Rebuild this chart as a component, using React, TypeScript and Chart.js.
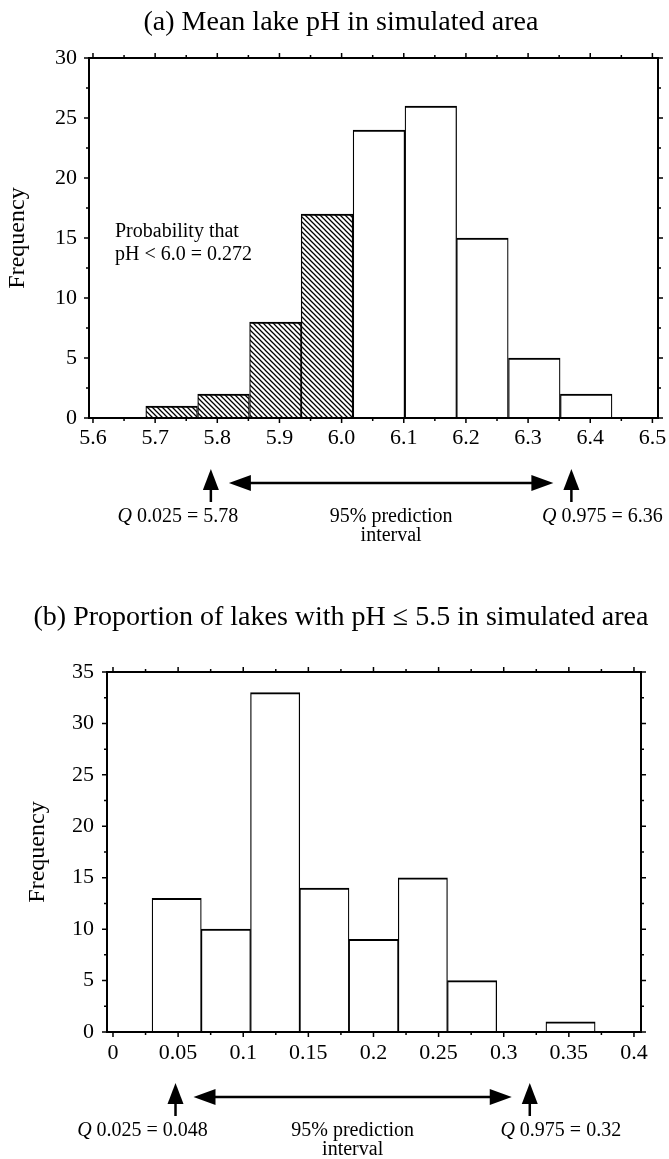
import React, { useEffect, useRef } from 'react';
import { Chart, registerables } from 'chart.js';

Chart.register(...registerables);

const FONT = '"Liberation Serif", "Times New Roman", Times, serif';

// ---------- Chart (a): mean lake pH ----------
const phTitle = '(a) Mean lake pH in simulated area';
const phBinEdges = [5.685, 5.768, 5.852, 5.935, 6.018, 6.102, 6.185, 6.268, 6.352, 6.435];
const phFrequency = [1, 2, 8, 17, 24, 26, 15, 5, 2];
const phHatchBelow = 6.0;
const phXTicks = [5.6, 5.7, 5.8, 5.9, 6.0, 6.1, 6.2, 6.3, 6.4, 6.5];
const phXTickLabels = ['5.6', '5.7', '5.8', '5.9', '6.0', '6.1', '6.2', '6.3', '6.4', '6.5'];
const phYTicks = [0, 5, 10, 15, 20, 25, 30];
const phQuantiles = [5.78, 6.36];
const phQuantileLabels = ['0.025 = 5.78', '0.975 = 6.36'];
const phNote = ['Probability that', 'pH < 6.0 = 0.272'];

// ---------- Chart (b): proportion of lakes with pH <= 5.5 ----------
const propTitle = '(b) Proportion of lakes with pH \u2264 5.5 in simulated area';
const propBinEdges = [0.03, 0.0678, 0.1056, 0.1434, 0.1812, 0.219, 0.2568, 0.2946, 0.3324, 0.3702];
const propFrequency = [13, 10, 33, 14, 9, 15, 5, 0, 1];
const propXTicks = [0, 0.05, 0.1, 0.15, 0.2, 0.25, 0.3, 0.35, 0.4];
const propXTickLabels = ['0', '0.05', '0.1', '0.15', '0.2', '0.25', '0.3', '0.35', '0.4'];
const propYTicks = [0, 5, 10, 15, 20, 25, 30, 35];
const propQuantiles = [0.048, 0.32];
const propQuantileLabels = ['0.025 = 0.048', '0.975 = 0.32'];

const intervalLabel = ['95% prediction', 'interval'];

type Spec = {
  title: string;
  titleBaseline: number;
  edges: number[];
  freq: number[];
  hatchBelow: number | null;
  xMin: number;
  xMax: number;
  xTicks: number[];
  xLabels: string[];
  yMax: number;
  yTicks: number[];
  q: number[];
  qLabels: string[];
  arrowShift: number;
  note: string[] | null;
  padTop: number;
  padRight: number;
  yWidth: number;
  xHeight: number;
  yLabelPad: number;
  yTitlePad: number;
  xLabelPad: number;
  width: number;
  height: number;
};

function makeHatch(): CanvasPattern | string {
  const s = 5;
  const c = document.createElement('canvas');
  c.width = s;
  c.height = s;
  const g = c.getContext('2d');
  if (!g) return '#888';
  g.fillStyle = '#fff';
  g.fillRect(0, 0, s, s);
  g.strokeStyle = '#000';
  g.lineWidth = 1.25;
  g.beginPath();
  g.moveTo(-1, -1);
  g.lineTo(s + 1, s + 1);
  g.moveTo(-1, s - 1);
  g.lineTo(1, s + 1);
  g.moveTo(s - 1, -1);
  g.lineTo(s + 1, 1);
  g.stroke();
  return g.createPattern(c, 'repeat') || '#888';
}

function drawUpArrow(ctx: CanvasRenderingContext2D, x: number, yTip: number) {
  ctx.beginPath();
  ctx.moveTo(x, yTip);
  ctx.lineTo(x - 8, yTip + 21);
  ctx.lineTo(x + 8, yTip + 21);
  ctx.closePath();
  ctx.fill();
  ctx.fillRect(x - 1.25, yTip + 20, 2.5, 13);
}

function drawDoubleArrow(ctx: CanvasRenderingContext2D, x1: number, x2: number, y: number) {
  ctx.beginPath();
  ctx.moveTo(x1, y);
  ctx.lineTo(x1 + 22, y - 8);
  ctx.lineTo(x1 + 22, y + 8);
  ctx.closePath();
  ctx.fill();
  ctx.beginPath();
  ctx.moveTo(x2, y);
  ctx.lineTo(x2 - 22, y - 8);
  ctx.lineTo(x2 - 22, y + 8);
  ctx.closePath();
  ctx.fill();
  ctx.fillRect(x1 + 20, y - 1.25, x2 - x1 - 40, 2.5);
}

function drawQLabel(ctx: CanvasRenderingContext2D, text: string, cx: number, y: number) {
  ctx.font = `italic 20px ${FONT}`;
  const wq = ctx.measureText('Q').width;
  ctx.font = `20px ${FONT}`;
  const rest = ' ' + text;
  const wr = ctx.measureText(rest).width;
  const x0 = cx - (wq + wr) / 2;
  ctx.textAlign = 'left';
  ctx.font = `italic 20px ${FONT}`;
  ctx.fillText('Q', x0, y);
  ctx.font = `20px ${FONT}`;
  ctx.fillText(rest, x0 + wq, y);
}

function makeConfig(spec: Spec): any {
  const hatch = makeHatch();
  const data = spec.freq.map((f, i) => ({ x: (spec.edges[i] + spec.edges[i + 1]) / 2, y: f }));

  const framePlugin = {
    id: 'frameTicks',
    afterDatasetsDraw(chart: any) {
      const { ctx, chartArea } = chart;
      const { left, right, top, bottom } = chartArea;
      const xs = chart.scales.x;
      const ys = chart.scales.y;
      ctx.save();
      ctx.strokeStyle = '#000';
      ctx.lineWidth = 2;
      ctx.strokeRect(left, top, right - left, bottom - top);
      ctx.lineWidth = 1.5;
      ctx.beginPath();
      const xt = spec.xTicks;
      for (let i = 0; i < xt.length; i++) {
        const px = xs.getPixelForValue(xt[i]);
        ctx.moveTo(px, bottom);
        ctx.lineTo(px, bottom + 5);
        ctx.moveTo(px, top);
        ctx.lineTo(px, top - 5);
        if (i < xt.length - 1) {
          const pm = xs.getPixelForValue((xt[i] + xt[i + 1]) / 2);
          ctx.moveTo(pm, bottom);
          ctx.lineTo(pm, bottom + 3);
          ctx.moveTo(pm, top);
          ctx.lineTo(pm, top - 3);
        }
      }
      const yt = spec.yTicks;
      for (let i = 0; i < yt.length; i++) {
        const py = ys.getPixelForValue(yt[i]);
        ctx.moveTo(left, py);
        ctx.lineTo(left - 5, py);
        ctx.moveTo(right, py);
        ctx.lineTo(right + 5, py);
        if (i < yt.length - 1) {
          const pm = ys.getPixelForValue((yt[i] + yt[i + 1]) / 2);
          ctx.moveTo(left, pm);
          ctx.lineTo(left - 3, pm);
          ctx.moveTo(right, pm);
          ctx.lineTo(right + 3, pm);
        }
      }
      ctx.stroke();
      ctx.restore();
    },
  };

  const annotationPlugin = {
    id: 'annotations',
    afterDraw(chart: any) {
      const { ctx, chartArea } = chart;
      const xs = chart.scales.x;
      const b = chartArea.bottom;
      ctx.save();
      ctx.fillStyle = '#000';
      ctx.font = `28px ${FONT}`;
      ctx.textAlign = 'center';
      ctx.textBaseline = 'alphabetic';
      ctx.fillText(spec.title, 341, spec.titleBaseline);
      if (spec.note) {
        ctx.font = `20px ${FONT}`;
        ctx.textAlign = 'left';
        ctx.fillText(spec.note[0], chartArea.left + 26, chartArea.top + 179);
        ctx.fillText(spec.note[1], chartArea.left + 26, chartArea.top + 202);
      }
      const q1 = xs.getPixelForValue(spec.q[0]) + spec.arrowShift;
      const q2 = xs.getPixelForValue(spec.q[1]) + spec.arrowShift;
      drawUpArrow(ctx, q1, b + 51);
      drawUpArrow(ctx, q2, b + 51);
      drawDoubleArrow(ctx, q1 + 18, q2 - 18, b + 65);
      drawQLabel(ctx, spec.qLabels[0], q1 - 33, b + 104);
      drawQLabel(ctx, spec.qLabels[1], q2 + 31, b + 104);
      ctx.font = `20px ${FONT}`;
      ctx.textAlign = 'center';
      const mid = (q1 + q2) / 2;
      ctx.fillText(intervalLabel[0], mid, b + 104);
      ctx.fillText(intervalLabel[1], mid, b + 123);
      ctx.restore();
    },
  };

  return {
    type: 'bar',
    data: {
      datasets: [
        {
          data,
          backgroundColor: (c: any) => {
            const r = c.raw;
            if (spec.hatchBelow !== null && r && r.x < spec.hatchBelow) return hatch;
            return '#ffffff';
          },
          borderColor: '#000',
          borderWidth: { top: 2, left: 1.25, right: 1.25, bottom: 0 },
          borderSkipped: false,
          barPercentage: 1,
          categoryPercentage: 1,
          grouped: false,
        },
      ],
    },
    options: {
      responsive: false,
      maintainAspectRatio: false,
      animation: false,
      devicePixelRatio: 1,
      layout: { padding: { top: spec.padTop, right: spec.padRight, left: 0, bottom: 0 } },
      plugins: {
        legend: { display: false },
        tooltip: { enabled: false },
        title: { display: false },
      },
      scales: {
        x: {
          type: 'linear',
          offset: false,
          min: spec.xMin,
          max: spec.xMax,
          afterBuildTicks: (s: any) => {
            s.ticks = spec.xTicks.map((v) => ({ value: v }));
          },
          afterFit: (s: any) => {
            s.height = spec.xHeight;
            s.paddingLeft = 0;
            s.paddingRight = 0;
          },
          ticks: {
            autoSkip: false,
            maxRotation: 0,
            minRotation: 0,
            padding: spec.xLabelPad,
            color: '#000',
            font: { family: FONT, size: 22 },
            callback: (_v: any, i: number) => spec.xLabels[i],
          },
          grid: { display: false, drawTicks: false, offset: false },
          border: { display: false },
        },
        y: {
          type: 'linear',
          min: 0,
          max: spec.yMax,
          afterBuildTicks: (s: any) => {
            s.ticks = spec.yTicks.map((v) => ({ value: v }));
          },
          afterFit: (s: any) => {
            s.width = spec.yWidth;
            s.paddingTop = 0;
            s.paddingBottom = 0;
          },
          ticks: {
            autoSkip: false,
            padding: spec.yLabelPad,
            color: '#000',
            font: { family: FONT, size: 22 },
            callback: (v: any) => String(v),
          },
          grid: { display: false, drawTicks: false },
          border: { display: false },
          title: {
            display: true,
            text: 'Frequency',
            color: '#000',
            font: { family: FONT, size: 24 },
            padding: { top: spec.yTitlePad, bottom: 0 },
          },
        },
      },
    },
    plugins: [framePlugin, annotationPlugin],
  };
}

const specA: Spec = {
  title: phTitle,
  titleBaseline: 30,
  edges: phBinEdges,
  freq: phFrequency,
  hatchBelow: phHatchBelow,
  xMin: 5.5936,
  xMax: 6.509,
  xTicks: phXTicks,
  xLabels: phXTickLabels,
  yMax: 30,
  yTicks: phYTicks,
  q: phQuantiles,
  qLabels: phQuantileLabels,
  arrowShift: 6,
  note: phNote,
  padTop: 58,
  padRight: 11,
  yWidth: 89,
  xHeight: 162,
  yLabelPad: 12,
  yTitlePad: 3.6,
  xLabelPad: 7,
  width: 669,
  height: 580,
};

const specB: Spec = {
  title: propTitle,
  titleBaseline: 45,
  edges: propBinEdges,
  freq: propFrequency,
  hatchBelow: null,
  xMin: -0.0046,
  xMax: 0.4054,
  xTicks: propXTicks,
  xLabels: propXTickLabels,
  yMax: 35,
  yTicks: propYTicks,
  q: propQuantiles,
  qLabels: propQuantileLabels,
  arrowShift: 0,
  note: null,
  padTop: 92,
  padRight: 28,
  yWidth: 107,
  xHeight: 127,
  yLabelPad: 13,
  yTitlePad: 23.6,
  xLabelPad: 8,
  width: 669,
  height: 579,
};

function HistChart({ spec }: { spec: Spec }) {
  const ref = useRef<HTMLCanvasElement | null>(null);
  useEffect(() => {
    if (!ref.current) return;
    const chart = new Chart(ref.current, makeConfig(spec));
    return () => chart.destroy();
  }, [spec]);
  return (
    <canvas
      ref={ref}
      width={spec.width}
      height={spec.height}
      style={{ display: 'block', width: spec.width, height: spec.height }}
    />
  );
}

export default function App() {
  useEffect(() => {
    document.body.style.margin = '0';
    document.body.style.background = '#fff';
  }, []);
  return (
    <div style={{ width: 669, height: 1159, background: '#fff', position: 'relative' }}>
      <HistChart spec={specA} />
      <HistChart spec={specB} />
    </div>
  );
}
